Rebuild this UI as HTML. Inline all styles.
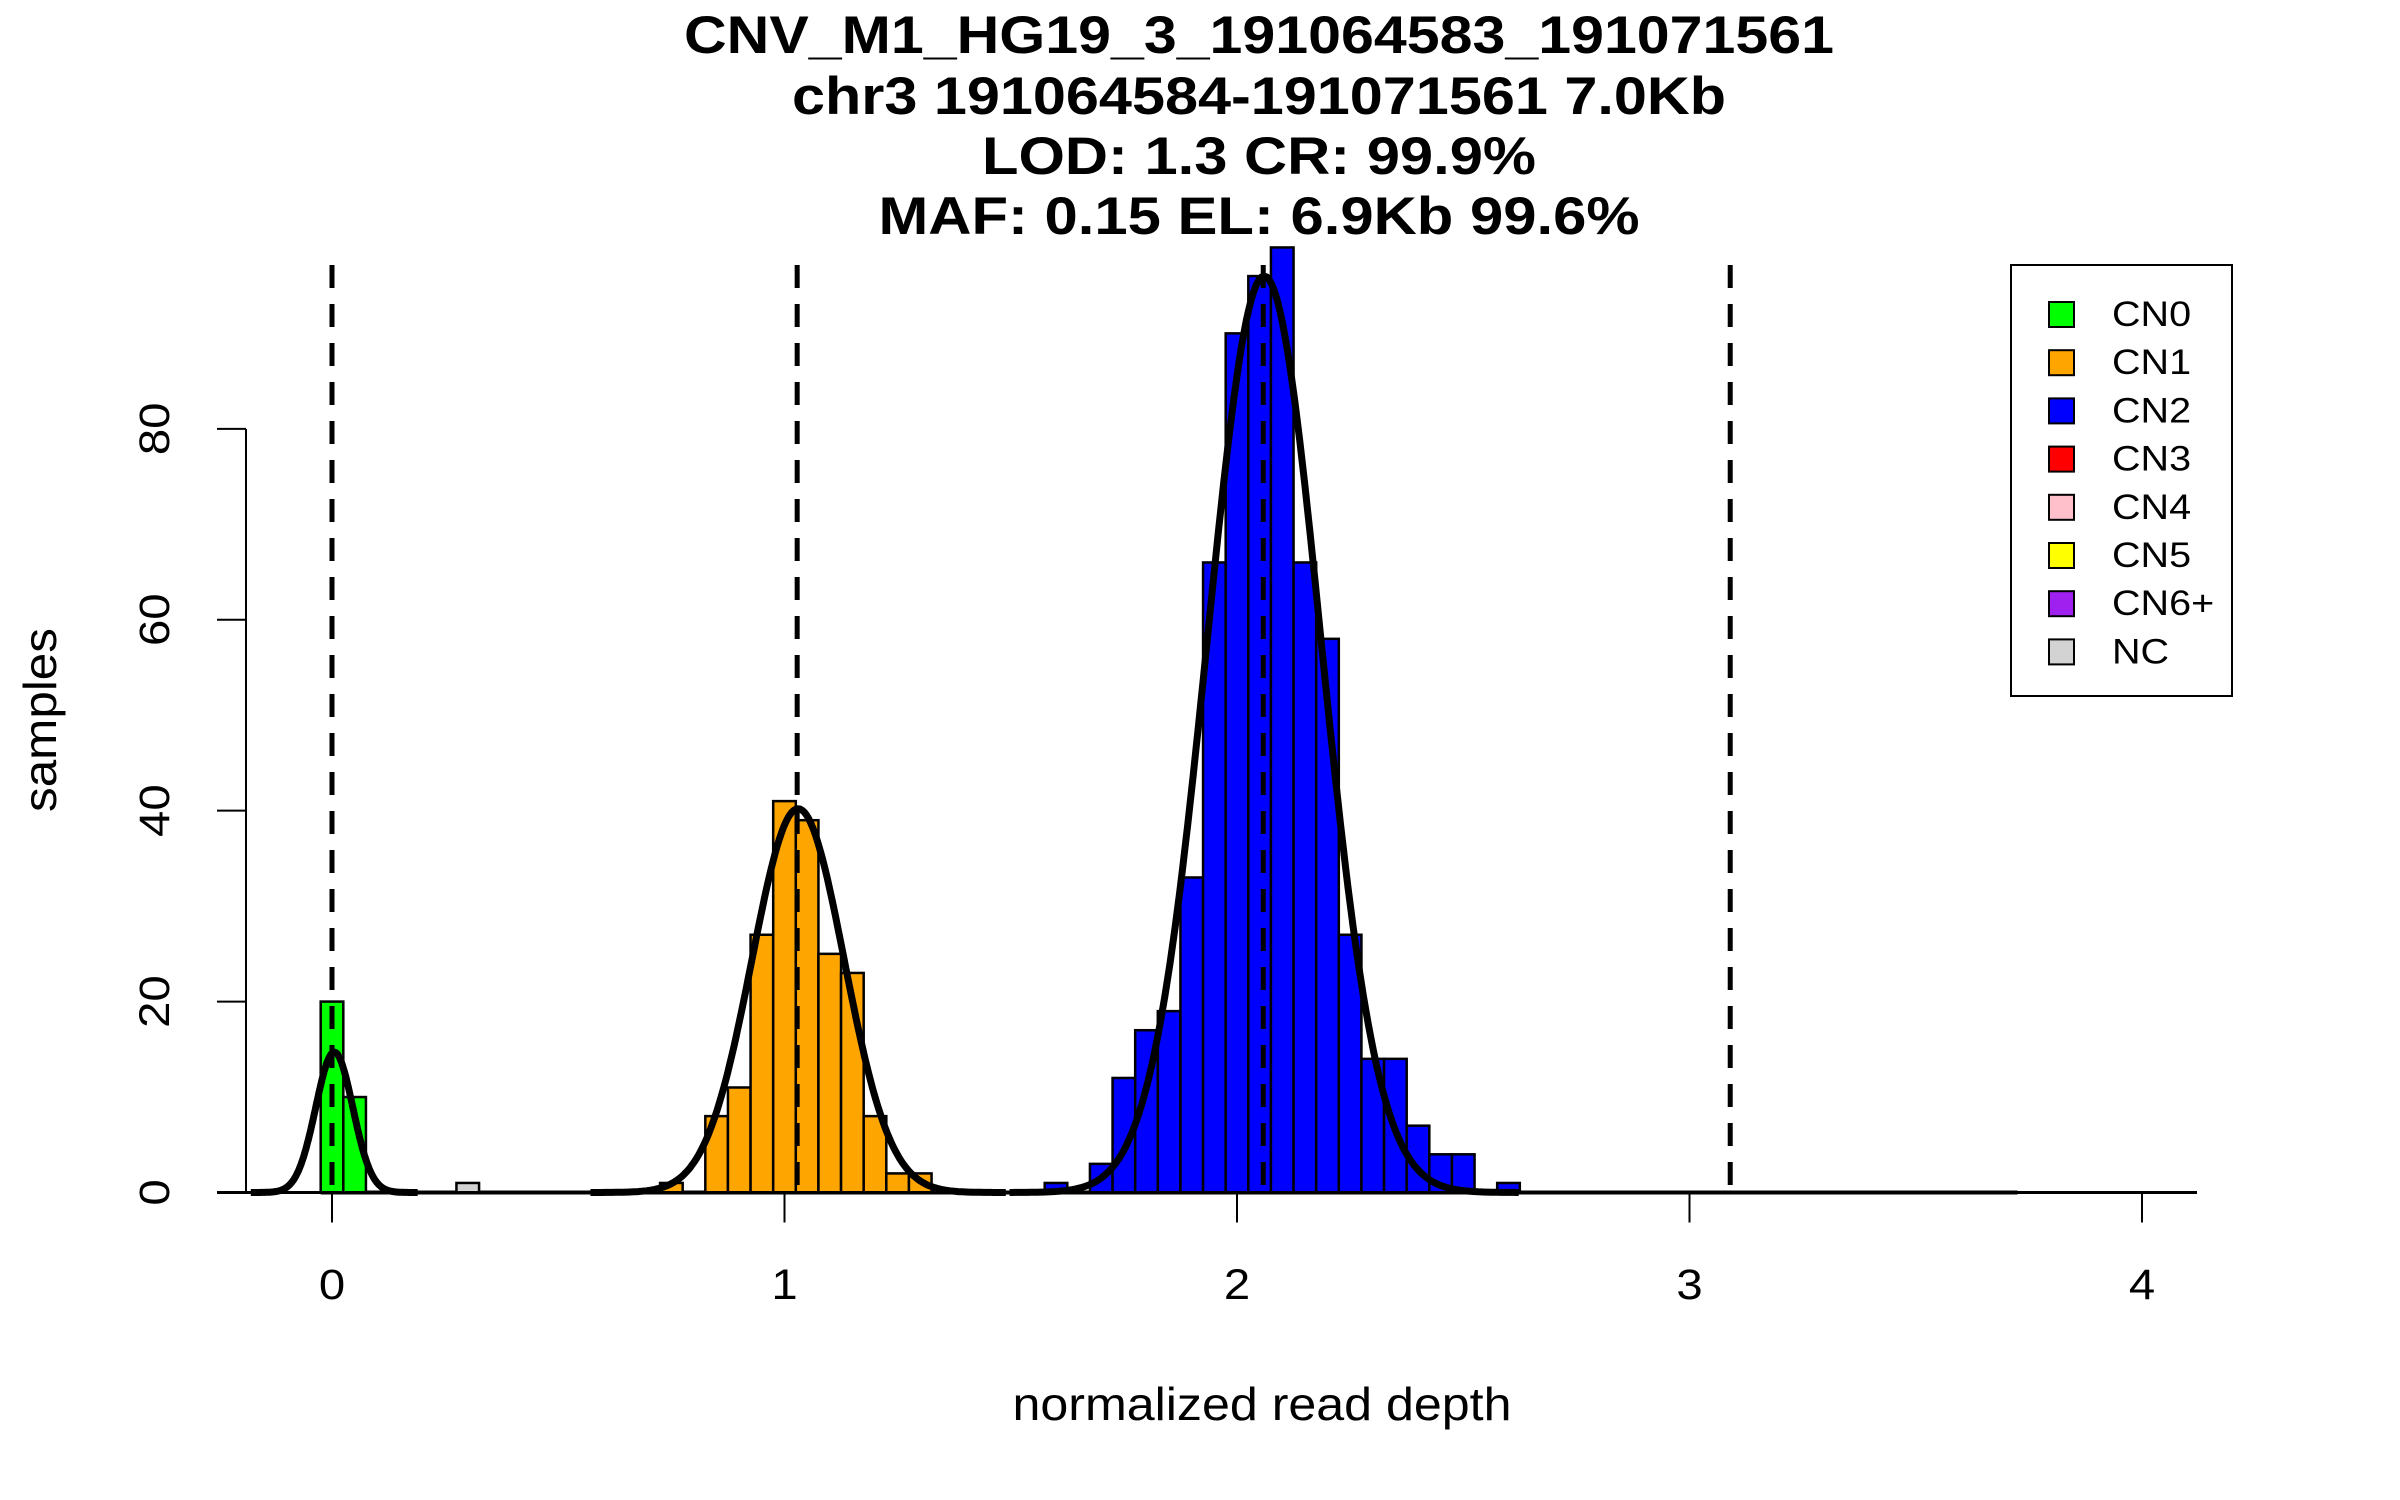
<!DOCTYPE html>
<html><head><meta charset="utf-8"><style>
html,body{margin:0;padding:0;background:#fff;}
svg{display:block;font-family:"Liberation Sans",sans-serif;}
</style></head><body>
<svg id="chart" width="2400" height="1500" viewBox="0 0 2400 1500">
<g id="titles" font-weight="bold" font-size="53" text-anchor="middle">
<text x="1259" y="53" textLength="1150" lengthAdjust="spacingAndGlyphs">CNV_M1_HG19_3_191064583_191071561</text>
<text x="1259" y="114" textLength="934" lengthAdjust="spacingAndGlyphs">chr3 191064584-191071561 7.0Kb</text>
<text x="1259" y="174" textLength="554" lengthAdjust="spacingAndGlyphs">LOD: 1.3 CR: 99.9%</text>
<text x="1259" y="234" textLength="761" lengthAdjust="spacingAndGlyphs">MAF: 0.15 EL: 6.9Kb 99.6%</text>
</g>
<g id="bars"></g>
<g id="curves"></g>
<g id="vlines"></g>
<g id="axes"></g>
<text x="1262" y="1420" font-size="46" text-anchor="middle" textLength="499" lengthAdjust="spacingAndGlyphs">normalized read depth</text>
<text transform="translate(56,720) rotate(-90)" font-size="46" text-anchor="middle" textLength="184" lengthAdjust="spacingAndGlyphs">samples</text>
<g>
<rect x="2011" y="265" width="221" height="431" fill="#fff" stroke="#000" stroke-width="2"/>
<g id="legendItems"></g>
</g>
</svg>
<script>
const binStarts = [-0.025,0.025,0.275,0.725,0.825,0.875,0.925,0.975,1.025,1.075,1.125,1.175,1.225,1.275,1.575,1.675,1.725,1.775,1.825,1.875,1.925,1.975,2.025,2.075,2.125,2.175,2.225,2.275,2.325,2.375,2.425,2.475,2.575];
const binCounts = [20,10,1,1,8,11,27,41,39,25,23,8,2,2,1,3,12,17,19,33,66,90,96,99,66,58,27,14,14,7,4,4,1];
const binClass = ['CN0','CN0','NC','CN1','CN1','CN1','CN1','CN1','CN1','CN1','CN1','CN1','CN1','CN1','CN2','CN2','CN2','CN2','CN2','CN2','CN2','CN2','CN2','CN2','CN2','CN2','CN2','CN2','CN2','CN2','CN2','CN2','CN2'];
const binWidth = 0.05;
const curveMeans = [0.005,1.03,2.06];
const curvePeaks = [14.7,40.2,96];
const curveSds = [0.041,0.102,0.125];
const meanLines = [0,1.028,2.058,3.09];
const xTicks = [0,1,2,3,4];
const yTicks = [0,20,40,60,80];
const legendLabels = ['CN0','CN1','CN2','CN3','CN4','CN5','CN6+','NC'];
const legendColors = ['#00ff00','#ffa500','#0000ff','#ff0000','#ffc0cb','#ffff00','#a020f0','#d3d3d3'];

const NS='http://www.w3.org/2000/svg';
const X = v => 332 + 452.5*v;
const Y = v => 1192.5 - 9.546*v;
function mk(tag, attrs, parent){const e=document.createElementNS(NS,tag);for(const k in attrs)e.setAttribute(k,attrs[k]);parent.appendChild(e);return e;}
const colorOf = c => legendColors[legendLabels.indexOf(c)];
function widen(t,f){const w=t.getComputedTextLength();t.setAttribute('textLength',(w*f).toFixed(1));t.setAttribute('lengthAdjust','spacingAndGlyphs');}

const bars=document.getElementById('bars');
const zl=mk('line',{x1:X(-0.025),x2:X(3.725),y1:Y(0),y2:Y(0),stroke:'#000','stroke-width':4},bars);


binStarts.forEach((s,i)=>{
  const r=mk('rect',{x:X(s),y:Y(binCounts[i]),width:X(s+binWidth)-X(s),height:Y(0)-Y(binCounts[i]),fill:colorOf(binClass[i]),stroke:'#000','stroke-width':2.5},bars);
  
  
});

const curves=document.getElementById('curves');
curveMeans.forEach((m,i)=>{
  const sd=curveSds[i];let d='';
  for(let k=0;k<=200;k++){const x=m-4.5*sd+9*sd*k/200;const y=curvePeaks[i]*Math.exp(-0.5*((x-m)/sd)**2);d+=(k?'L':'M')+X(x).toFixed(1)+' '+Y(y).toFixed(1);}
  const p=mk('path',{d:d,fill:'none',stroke:'#000','stroke-width':7},curves);
  
  
});

const vl=document.getElementById('vlines');
meanLines.forEach((v,i)=>{
  const l=mk('line',{x1:X(v),x2:X(v),y1:265,y2:Y(0),stroke:'#000','stroke-width':5,'stroke-dasharray':'23 16'},vl);
  
  
});

const ax=document.getElementById('axes');
const xa=mk('line',{x1:217,x2:2197,y1:Y(0),y2:Y(0),stroke:'#000','stroke-width':3},ax);


xTicks.forEach(t=>{
  const l=mk('line',{x1:X(t),x2:X(t),y1:Y(0),y2:Y(0)+30,stroke:'#000','stroke-width':2},ax);
  
  
  const tx=mk('text',{x:X(t),y:1299,'font-size':43,'text-anchor':'middle'},ax);
  tx.textContent=t;
  
  
  widen(tx,1.1);
});
const ya=mk('line',{x1:246,x2:246,y1:Y(0),y2:Y(80),stroke:'#000','stroke-width':2},ax);


yTicks.forEach(t=>{
  const l=mk('line',{x1:217,x2:246,y1:Y(t),y2:Y(t),stroke:'#000','stroke-width':2},ax);
  
  
  const tx=mk('text',{transform:'translate(169,'+Y(t)+') rotate(-90)','font-size':43,'text-anchor':'middle'},ax);
  tx.textContent=t;
  
  
  widen(tx,1.1);
});

const lg=document.getElementById('legendItems');
legendLabels.forEach((lab,i)=>{
  const y=314+48.2*i;
  const r=mk('rect',{x:2049,y:y-12,width:25,height:25,fill:legendColors[i],stroke:'#000','stroke-width':2},lg);
  
  
  const t=mk('text',{x:2112,y:y+12,'font-size':35},lg);
  t.textContent=lab;
  
  
  widen(t,1.13);
});
</script>
</body></html>
